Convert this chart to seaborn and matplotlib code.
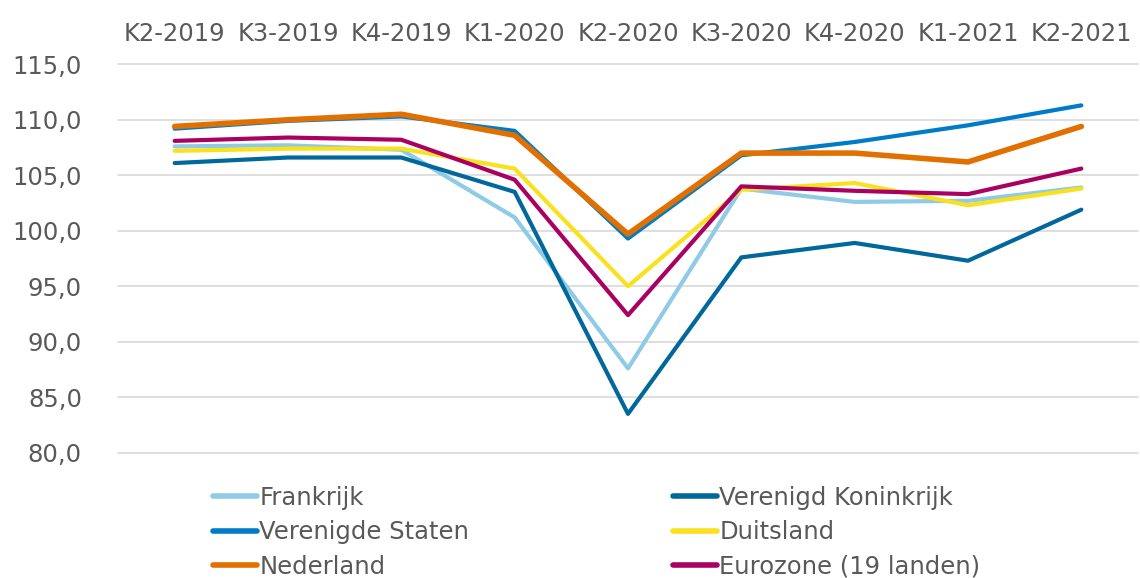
import pandas as pd
import matplotlib
matplotlib.use("Agg")
import matplotlib.pyplot as plt
from matplotlib.ticker import FuncFormatter
import seaborn as sns

# data
kwartalen = ['K2-2019', 'K3-2019', 'K4-2019', 'K1-2020', 'K2-2020',
             'K3-2020', 'K4-2020', 'K1-2021', 'K2-2021']
frankrijk = [107.6, 107.7, 107.3, 101.2, 87.6, 103.8, 102.6, 102.7, 103.9]
verenigd_koninkrijk = [106.1, 106.6, 106.6, 103.5, 83.5, 97.6, 98.9, 97.3, 101.9]
verenigde_staten = [109.2, 109.9, 110.3, 109.0, 99.3, 106.8, 108.0, 109.5, 111.3]
duitsland = [107.2, 107.4, 107.4, 105.6, 95.0, 103.7, 104.3, 102.3, 103.8]
nederland = [109.4, 110.0, 110.5, 108.6, 99.7, 107.0, 107.0, 106.2, 109.4]
eurozone = [108.1, 108.4, 108.2, 104.6, 92.4, 104.0, 103.6, 103.3, 105.6]

landen = ['Frankrijk', 'Verenigd Koninkrijk', 'Verenigde Staten',
          'Duitsland', 'Nederland', 'Eurozone (19 landen)']
kleuren = ['#8FCAE7', '#01689B', '#007BC7', '#F9E11E', '#E17000', '#A90061']

waarden = [frankrijk, verenigd_koninkrijk, verenigde_staten,
           duitsland, nederland, eurozone]
rows = []
for land, reeks in zip(landen, waarden):
    for i, (k, v) in enumerate(zip(kwartalen, reeks)):
        rows.append({'pos': i, 'kwartaal': k, 'land': land, 'index': v})
df = pd.DataFrame(rows)

sns.set_theme(style='white')
plt.rcParams['font.family'] = ['DejaVu Sans']
tekstkleur = '#595959'
fs = 17.5

fig = plt.figure(figsize=(11.4, 5.78), dpi=100)
ax = fig.add_axes([118 / 1140, 1 - 452.7 / 578, 1020 / 1140, (452.7 - 64.3) / 578])

sns.lineplot(data=df, x='pos', y='index', hue='land', hue_order=landen,
             palette=kleuren, legend=False, ax=ax, linewidth=3.0)
for line, land in zip(ax.lines, landen):
    line.set_solid_joinstyle('round')
    if land == 'Nederland':
        line.set_linewidth(4.0)

ax.set_xlim(-0.5, 8.5)
ax.set_ylim(80, 115)
ax.set_yticks([80, 85, 90, 95, 100, 105, 110, 115])
ax.yaxis.set_major_formatter(FuncFormatter(lambda v, p: f'{v:.1f}'.replace('.', ',')))
ax.set_xticks(range(len(kwartalen)))
ax.set_xticklabels(kwartalen)
ax.xaxis.tick_top()
ax.tick_params(axis='x', length=0, pad=13, labelsize=fs, labelcolor=tekstkleur)
ax.tick_params(axis='y', length=0, pad=26, labelsize=fs, labelcolor=tekstkleur)
ax.set_xlabel('')
ax.set_ylabel('')
ax.grid(axis='y', color='#D9D9D9', linewidth=1.2)
ax.grid(axis='x', visible=False)
ax.set_axisbelow(True)
for gl in ax.get_ygridlines():
    gl.set_clip_on(False)
for s in ax.spines.values():
    s.set_visible(False)

# legend in two columns, row-major like the original
lijnen = dict(zip(landen, ax.lines))
links = ['Frankrijk', 'Verenigde Staten', 'Nederland']
rechts = ['Verenigd Koninkrijk', 'Duitsland', 'Eurozone (19 landen)']
for namen, x0 in [(links, 213), (rechts, 673)]:
    handles = []
    for n in namen:
        h = plt.Line2D([], [], color=lijnen[n].get_color(), linewidth=4.0)
        handles.append(h)
    leg = fig.legend(handles, namen, loc='upper left',
                     bbox_to_anchor=(x0 / 1140, 1 - 486 / 578),
                     frameon=False, fontsize=fs, handlelength=1.8,
                     handletextpad=0.1, labelspacing=0.43,
                     borderpad=0, borderaxespad=0)
    for t in leg.get_texts():
        t.set_color(tekstkleur)

fig.savefig('out.png', dpi=100)
